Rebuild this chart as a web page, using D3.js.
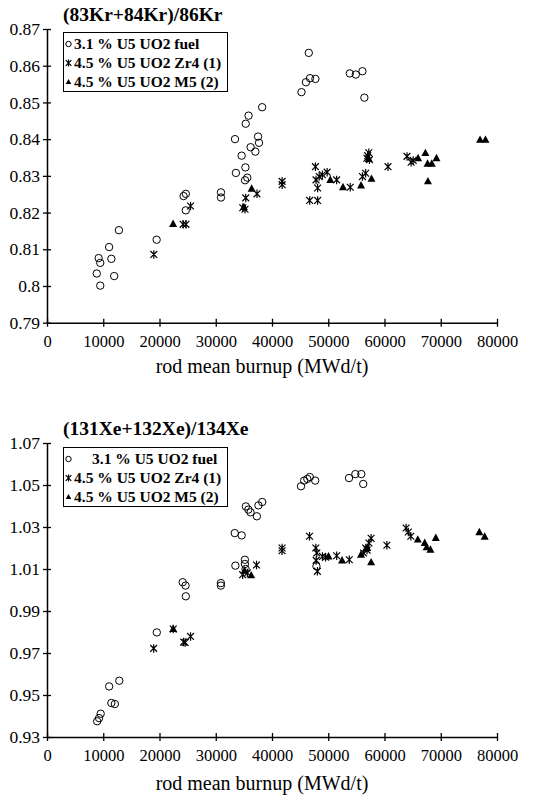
<!DOCTYPE html>
<html>
<head>
<meta charset="utf-8">
<script src="https://cdnjs.cloudflare.com/ajax/libs/d3/7.8.5/d3.min.js"></script>
<style>
  body { margin: 0; background: #fff; }
  svg { display: block; font-family: "Liberation Serif", "Times New Roman", serif; }
</style>
</head>
<body>
<div id="chart"></div>
<script>
// x ticks shared by both panels
var xTicks = [0, 10000, 20000, 30000, 40000, 50000, 60000, 70000, 80000];
var xLabel = "rod mean burnup (MWd/t)";
var seriesNames = ["3.1 % U5 UO2 fuel", "4.5 % U5 UO2 Zr4 (1)", "4.5 % U5 UO2 M5 (2)"];

// panel 1 : (83Kr+84Kr)/86Kr   [burnup, ratio]
var krTicks = [0.79, 0.8, 0.81, 0.82, 0.83, 0.84, 0.85, 0.86, 0.87];
var krFuel31 = [[9180,0.8076],[9465,0.8063],[8845,0.8034],[9465,0.8001],[11040,0.8106],[11440,0.8074],
  [11945,0.8027],[12790,0.8152],[19490,0.8126],[24280,0.8245],[24680,0.8251],[24680,0.8206],
  [30930,0.8255],[30930,0.8241],[33580,0.8308],[35270,0.8323],[35610,0.8295],[35210,0.8288],
  [34600,0.8355],[36200,0.8378],[37040,0.8366],[37520,0.8407],[37690,0.8390],[33420,0.8400],
  [35330,0.8442],[35830,0.8464],[38250,0.8487],[45240,0.8528],[46030,0.8555],[46760,0.8566],
  [47720,0.8564],[46540,0.8635],[53830,0.8579],[54900,0.8576],[56080,0.8585],[56420,0.8513]];
var krZr4 = [[18990,0.8086],[24200,0.8168],[24700,0.8168],[25520,0.8218],[34800,0.8213],[35200,0.8209],
  [35330,0.8240],[37330,0.8251],[41800,0.8285],[41800,0.8276],[47720,0.8325],[47830,0.8289],
  [48110,0.8267],[48390,0.8298],[48950,0.8303],[49800,0.8310],[51490,0.8289],[53910,0.8269],
  [46700,0.8233],[48110,0.8233],[56080,0.8298],[56650,0.8307],[57210,0.8363],[56870,0.8348],
  [57320,0.8344],[57000,0.8355],[60620,0.8325],[64000,0.8353],[64730,0.8337],[65100,0.8342]];
var krM5 = [[22420,0.8169],[35000,0.8215],[36380,0.8265],[50370,0.8289],[52620,0.8269],[55830,0.8274],
  [57690,0.8292],[57210,0.8346],[65970,0.8348],[67270,0.8362],[67660,0.8333],[68400,0.8333],
  [69240,0.8348],[67720,0.8285],[76990,0.8398],[77950,0.8398]];

// panel 2 : (131Xe+132Xe)/134Xe
var xeTicks = [0.93, 0.95, 0.97, 0.99, 1.01, 1.03, 1.05, 1.07];
var xeFuel31 = [[8920,0.9375],[9260,0.9390],[9540,0.9411],[11050,0.9541],[12850,0.9568],[11440,0.9462],
  [12060,0.9457],[19520,0.9798],[24120,1.0037],[24630,1.0021],[24680,0.9970],[30910,1.0033],
  [30910,1.0021],[33380,1.0271],[34610,1.0260],[33490,1.0116],[35180,1.0144],[35180,1.0124],
  [35300,1.0100],[35350,1.0398],[35800,1.0383],[36190,1.0370],[37310,1.0351],[37590,1.0403],
  [38260,1.0419],[45160,1.0494],[45720,1.0521],[46280,1.0529],[46730,1.0538],[47680,1.0521],
  [53690,1.0533],[54820,1.0552],[55880,1.0552],[56220,1.0505],[47900,1.0113]];
var xeZr4 = [[18960,0.9722],[22440,0.9814],[24290,0.9752],[24560,0.9750],[25520,0.9779],[34780,1.0073],
  [35620,1.0081],[37250,1.0119],[41790,1.0200],[41790,1.0187],[46670,1.0256],[47790,1.0200],
  [47960,1.0176],[47850,1.0141],[48070,1.0089],[48970,1.0160],[49530,1.0156],[51500,1.0163],
  [53740,1.0144],[56270,1.0176],[56670,1.0200],[57230,1.0224],[57620,1.0246],[56900,1.0190],
  [60420,1.0213],[63840,1.0295],[64230,1.0276],[64680,1.0256]];
var xeM5 = [[22440,0.9814],[35120,1.0092],[36300,1.0070],[50050,1.0160],[52450,1.0141],[55820,1.0168],
  [57620,1.0132],[56950,1.0200],[65920,1.0240],[67150,1.0224],[67490,1.0203],[68170,1.0192],
  [69120,1.0248],[76860,1.0275],[77810,1.0254]];

var svg = d3.select("#chart").append("svg")
  .attr("width", 551).attr("height", 801);

// asterisk = x cross + vertical bar
function starPath(s) {
  return "M" + (-s) + "," + (-s) + "L" + s + "," + s +
         "M" + (-s) + "," + s + "L" + s + "," + (-s) +
         "M0," + (-s * 1.25) + "L0," + (s * 1.25);
}
function triPath(s) {
  return "M0," + (-s * 1.1) + "L" + s + "," + (s * 0.75) + "L" + (-s) + "," + (s * 0.75) + "Z";
}

function drawMarker(g, type, x, y, s) {
  if (type == 0) {
    g.append("circle").attr("cx", x).attr("cy", y).attr("r", s)
      .attr("fill", "none").attr("stroke", "#000").attr("stroke-width", 1);
  } else if (type == 1) {
    g.append("path").attr("transform", "translate(" + x + "," + y + ")")
      .attr("d", starPath(s)).attr("fill", "none").attr("stroke", "#000").attr("stroke-width", 1.2);
  } else {
    g.append("path").attr("transform", "translate(" + x + "," + y + ")")
      .attr("d", triPath(s)).attr("fill", "#000");
  }
}

function drawPanel(opt) {
  var x = d3.scaleLinear().domain([0, 80000]).range([47, 497]);
  var y = d3.scaleLinear().domain(opt.yDomain).range([opt.bottom, opt.top]);
  var g = svg.append("g");

  // title
  g.append("text").attr("x", 63).attr("y", opt.titleY)
    .attr("font-size", 19.5).attr("font-weight", "bold").text(opt.title);

  // axes
  var xa = g.append("g").attr("transform", "translate(0," + opt.bottom + ")")
    .call(d3.axisBottom(x).tickValues(xTicks).tickFormat(d3.format("d")).tickSizeInner(4).tickSizeOuter(0));
  xa.selectAll(".tick line").attr("y1", -4).attr("stroke-width", 1.3);
  xa.selectAll("text").attr("font-size", 16.5).attr("y", 24).attr("dy", 0)
    .attr("font-family", "Liberation Serif");
  xa.select(".domain").attr("stroke-width", 1.5);

  var ya = g.append("g").attr("transform", "translate(47,0)")
    .call(d3.axisLeft(y).tickValues(opt.yTicks).tickFormat(function(d) { return +d.toFixed(2); })
      .tickSizeInner(4).tickSizeOuter(0));
  ya.selectAll(".tick line").attr("x1", 4).attr("x2", -4).attr("stroke-width", 1.3);
  ya.selectAll("text").attr("font-size", 17.5).attr("x", -7).attr("font-family", "Liberation Serif");
  ya.select(".domain").attr("stroke-width", 1.5);

  g.append("text").attr("x", 262).attr("y", opt.bottom + opt.labelGap)
    .attr("text-anchor", "middle").attr("font-size", 20).text(xLabel);

  // points
  var pts = g.append("g");
  opt.series.forEach(function(ser, k) {
    ser.forEach(function(d) {
      drawMarker(pts, k, x(d[0]), y(d[1]), k == 0 ? 3.7 : (k == 1 ? 3.4 : 4));
    });
  });

  // legend
  var lg = g.append("g");
  lg.append("rect").attr("x", 63.5).attr("y", opt.legendY + 0.5).attr("width", 164).attr("height", 59)
    .attr("fill", "#fff").attr("stroke", "#000").attr("stroke-width", 1);
  seriesNames.forEach(function(name, k) {
    var cy = opt.legendY + 12 + k * 19;
    drawMarker(lg, k, 68.5, cy, k == 0 ? 2.7 : 2.8);
    lg.append("text").attr("x", (k == 0 ? opt.firstTextX : 74)).attr("y", cy).attr("dy", "0.35em")
      .attr("font-size", 15.5).attr("font-weight", "bold").text(name);
  });
}

drawPanel({
  title: "(83Kr+84Kr)/86Kr", titleY: 21,
  yDomain: [0.79, 0.87], yTicks: krTicks, top: 29, bottom: 322.7, labelGap: 50,
  legendY: 32, firstTextX: 74,
  series: [krFuel31, krZr4, krM5]
});

drawPanel({
  title: "(131Xe+132Xe)/134Xe", titleY: 435,
  yDomain: [0.93, 1.07], yTicks: xeTicks, top: 443, bottom: 737, labelGap: 53,
  legendY: 447, firstTextX: 92,
  series: [xeFuel31, xeZr4, xeM5]
});
</script>
</body>
</html>
